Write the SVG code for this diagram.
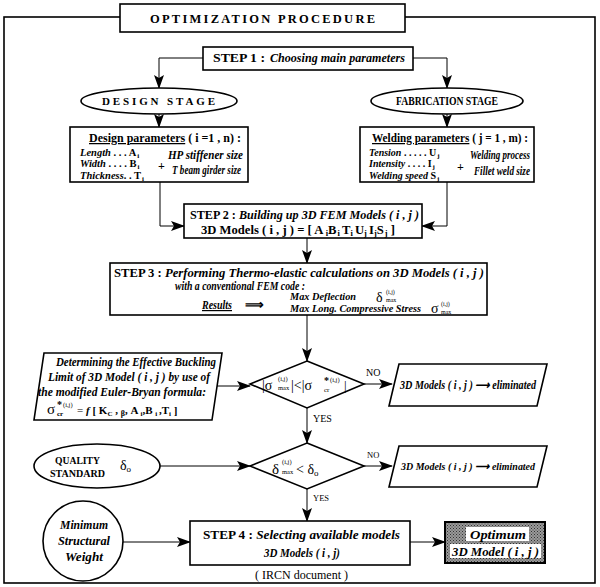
<svg xmlns="http://www.w3.org/2000/svg" width="600" height="587" viewBox="0 0 600 587" font-family="'Liberation Serif','Times New Roman',serif">
<style>
text{font-family:"Liberation Serif","Times New Roman",serif;fill:#000;font-weight:bold}
.i{font-style:italic}
.n{font-weight:normal}
.box{fill:#fff;stroke:#000;stroke-width:1.6}
.c{fill:none;stroke:#000;stroke-width:1}
</style>
<defs>
<marker id="ah" markerWidth="14" markerHeight="10" refX="13" refY="5" orient="auto" markerUnits="userSpaceOnUse">
<path d="M0,0 L14,5 L0,10 L3,5 Z" fill="#000"/>
</marker>
<pattern id="dots" width="3" height="3" patternUnits="userSpaceOnUse">
<rect width="3" height="3" fill="#9a9a9a"/>
<rect width="1" height="1" fill="#333"/>
<rect x="1.5" y="1.5" width="1" height="1" fill="#444"/>
</pattern>
</defs>

<g id="frame">
<rect x="4" y="17" width="591" height="566" fill="none" stroke="#000" stroke-width="1.6"/>
</g>
<g id="title">
<rect x="120" y="4" width="285" height="28" class="box"/>
<text x="150" y="22.5" font-size="12.5" textLength="225">OPTIMIZATION  PROCEDURE</text>
</g>

<g id="connectors">
<path class="c" d="M203,58 H159 V88" marker-end="url(#ah)"/>
<path class="c" d="M413,58 H447 V88" marker-end="url(#ah)"/>
<path class="c" d="M159,114 V127" marker-end="url(#ah)"/>
<path class="c" d="M447,114 V127" marker-end="url(#ah)"/>
<path class="c" d="M160,182 V226 H184" marker-end="url(#ah)"/>
<path class="c" d="M447,182 V226 H422" marker-end="url(#ah)"/>
<path class="c" d="M307,238 V263" marker-end="url(#ah)"/>
<path class="c" d="M307,315 V361" marker-end="url(#ah)"/>
<path class="c" d="M214,386 H250" marker-end="url(#ah)"/>
<path class="c" d="M364,384 H392" marker-end="url(#ah)"/>
<path class="c" d="M307,408 V443" marker-end="url(#ah)"/>
<path class="c" d="M160,466 H250" marker-end="url(#ah)"/>
<path class="c" d="M364,466 H392" marker-end="url(#ah)"/>
<path class="c" d="M307,489 V521" marker-end="url(#ah)"/>
<path class="c" d="M123,542 H190" marker-end="url(#ah)"/>
<path class="c" d="M410,542 H445" marker-end="url(#ah)" stroke-width="1.6"/>
<text x="366" y="376" font-size="10" class="n">NO</text>
<text x="313" y="422" font-size="10" class="n">YES</text>
<text x="367" y="458" font-size="8.5" class="n">NO</text>
<text x="313" y="501" font-size="8.5" class="n">YES</text>
</g>

<g id="step1">
<rect x="203" y="47" width="210" height="23" class="box"/>
<text x="213" y="62" font-size="11.5" textLength="52" lengthAdjust="spacingAndGlyphs">STEP 1 :</text>
<text x="270" y="62" font-size="12" class="i" textLength="135" lengthAdjust="spacingAndGlyphs">Choosing  main  parameters</text>
</g>

<g id="design-stage">
<ellipse cx="159" cy="101" rx="78" ry="13" class="box"/>
<text x="102" y="105" font-size="11" textLength="113">DESIGN STAGE</text>
</g>

<g id="fabrication-stage">
<ellipse cx="447" cy="101" rx="76" ry="13" class="box"/>
<text x="396" y="105" font-size="12" textLength="102" lengthAdjust="spacingAndGlyphs">FABRICATION  STAGE</text>
</g>

<g id="design-params">
<rect x="70" y="127" width="178" height="55" class="box"/>
<text x="89" y="142" font-size="12.5" textLength="152" lengthAdjust="spacingAndGlyphs"><tspan text-decoration="underline">Design  parameters</tspan> ( i =1 , n) :</text>
<text x="80" y="155.5" font-size="10.5"><tspan class="i">Length</tspan> . . . A<tspan dx="1" dy="2" font-size="7">i</tspan></text>
<text x="80" y="167" font-size="10.5"><tspan class="i">Width</tspan> . . . . B<tspan dx="1" dy="2" font-size="7">i</tspan></text>
<text x="80" y="178.5" font-size="10.5"><tspan class="i">Thickness</tspan>. . T<tspan dx="1" dy="2" font-size="7">i</tspan></text>
<text x="158" y="170" font-size="12">+</text>
<text x="168" y="159" font-size="12" class="i" textLength="75" lengthAdjust="spacingAndGlyphs">HP  stiffener size</text>
<text x="172" y="174" font-size="12" class="i" textLength="69" lengthAdjust="spacingAndGlyphs">T beam girder size</text>
</g>

<g id="welding-params">
<rect x="360" y="127" width="174" height="55" class="box"/>
<text x="372" y="142" font-size="12.5" textLength="156" lengthAdjust="spacingAndGlyphs"><tspan text-decoration="underline">Welding  parameters</tspan> ( j = 1 , m) :</text>
<text x="369" y="156" font-size="10"><tspan class="i">Tension</tspan> . . . . .  U<tspan dx="1" dy="2" font-size="7">j</tspan></text>
<text x="369" y="167" font-size="10"><tspan class="i">Intensity</tspan> . . . .  I<tspan dx="1" dy="2" font-size="7">j</tspan></text>
<text x="369" y="178.5" font-size="10"><tspan class="i">Welding speed</tspan> S<tspan dx="1" dy="2" font-size="7">j</tspan></text>
<text x="457" y="171" font-size="12">+</text>
<text x="470" y="159" font-size="11.5" class="i" textLength="60" lengthAdjust="spacingAndGlyphs">Welding process</text>
<text x="474" y="175" font-size="11.5" class="i" textLength="56" lengthAdjust="spacingAndGlyphs">Fillet weld size</text>
</g>

<g id="step2">
<rect x="184" y="204" width="238" height="34" class="box"/>
<text x="190" y="219" font-size="12.5" textLength="229" lengthAdjust="spacingAndGlyphs">STEP 2 : <tspan class="i">Building  up  3D FEM  Models ( i , j )</tspan></text>
<text x="201" y="234" font-size="12" textLength="194" lengthAdjust="spacingAndGlyphs">3D  Models ( i , j ) = [ A <tspan dy="2" font-size="8">i</tspan><tspan dy="-2">B</tspan><tspan dx="1" dy="2" font-size="8">i</tspan><tspan dx="2" dy="-2">T</tspan><tspan dy="2" font-size="8">i</tspan><tspan dx="2" dy="-2">U</tspan><tspan dy="2" font-size="8">j</tspan><tspan dx="2" dy="-2">I</tspan><tspan dy="2" font-size="8">j</tspan><tspan dy="-2">S</tspan><tspan dx="1" dy="2" font-size="8">j</tspan><tspan dx="3" dy="-2">]</tspan></text>
</g>

<g id="step3">
<rect x="110" y="263" width="377" height="52" class="box"/>
<text x="114" y="277" font-size="12.5" textLength="370" lengthAdjust="spacingAndGlyphs">STEP 3 : <tspan class="i">Performing  Thermo-elastic calculations  on  3D Models ( i , j )</tspan></text>
<text x="175" y="289.5" font-size="12" class="i" textLength="130" lengthAdjust="spacingAndGlyphs">with  a  conventional  FEM  code :</text>
<text x="202" y="309" font-size="12" class="i" text-decoration="underline" textLength="30" lengthAdjust="spacingAndGlyphs">Results</text>
<text x="245" y="309" font-size="13">⟹</text>
<text x="290" y="300" font-size="11" class="i" textLength="66" lengthAdjust="spacingAndGlyphs">Max  Deflection</text>
<text x="376" y="302" font-size="14" class="n">δ</text>
<text x="386" y="294" font-size="6" class="n">(i,j)</text>
<text x="386" y="302" font-size="6" class="n">max</text>
<text x="290" y="312" font-size="11" class="i" textLength="131" lengthAdjust="spacingAndGlyphs">Max  Long. Compressive  Stress</text>
<text x="431" y="313" font-size="14" class="n">σ</text>
<text x="441" y="306" font-size="6" class="n">(i,j)</text>
<text x="441" y="313.5" font-size="6" class="n">max</text>
</g>

<g id="buckling-limit">
<polygon points="44,353 222,353 212,420 34,420" class="box"/>
<text x="56" y="366" font-size="12" class="i" textLength="160" lengthAdjust="spacingAndGlyphs">Determining  the  Effective Buckling</text>
<text x="48" y="381" font-size="12" class="i" textLength="162" lengthAdjust="spacingAndGlyphs">Limit  of  3D  Model ( i , j ) by  use of</text>
<text x="38" y="396" font-size="12" class="i" textLength="168" lengthAdjust="spacingAndGlyphs">the modified Euler-Bryan formula:</text>
<text x="47" y="414" font-size="15" class="n">σ</text>
<text x="57" y="416" font-size="7">cr</text>
<text x="57" y="408" font-size="10">*</text>
<text x="63" y="407" font-size="6.5" class="n">(i,j)</text>
<text x="77" y="414" font-size="11"><tspan class="n">=</tspan> <tspan class="i">f</tspan> [ K<tspan dy="2" font-size="7">C</tspan><tspan dy="-2"> , </tspan><tspan dy="2" font-size="8">β</tspan><tspan dy="-2">, A </tspan><tspan dy="2" font-size="7">i</tspan><tspan dy="-2">,B </tspan><tspan dy="2" font-size="7">i </tspan><tspan dy="-2">,T</tspan><tspan dy="2" font-size="7">i</tspan><tspan dy="-2"> ]</tspan></text>
</g>

<g id="decision-stress">
<polygon points="307,361 364,384 307,408 250,384" class="box"/>
<text x="262" y="390" font-size="14" class="n">|σ</text>
<text x="278" y="381" font-size="6.5" class="n">(i,j)</text>
<text x="278" y="390" font-size="6.5" class="n">max</text>
<text x="291" y="390" font-size="14" class="n">|&lt;|σ</text>
<text x="324" y="392" font-size="7" class="n">cr</text>
<text x="324" y="384" font-size="10">*</text>
<text x="330" y="382" font-size="6.5" class="n">(i,j)</text>
<text x="344" y="390" font-size="13" class="n">|</text>
</g>

<g id="eliminated-1">
<polygon points="399,364 547,364 537,406 389,406" class="box"/>
<text x="400" y="389" font-size="12" class="i" textLength="136" lengthAdjust="spacingAndGlyphs">3D Models ( i , j )  ⟶   eliminated</text>
</g>

<g id="quality-standard">
<ellipse cx="97" cy="466" rx="63" ry="22" class="box"/>
<text x="55" y="464" font-size="11" textLength="45" lengthAdjust="spacingAndGlyphs">QUALITY</text>
<text x="50" y="477" font-size="11" textLength="55" lengthAdjust="spacingAndGlyphs">STANDARD</text>
<text x="120" y="470" font-size="14" class="n">δ<tspan dy="2" font-size="9">o</tspan></text>
</g>

<g id="decision-deflection">
<polygon points="307,443 364,466 307,489 250,466" class="box"/>
<text x="272" y="474" font-size="15" class="n">δ</text>
<text x="282" y="464" font-size="6.5" class="n">(i,j)</text>
<text x="282" y="474" font-size="6.5" class="n">max</text>
<text x="296" y="474" font-size="14" class="n">&lt; δ<tspan dy="2" font-size="9">o</tspan></text>
</g>

<g id="eliminated-2">
<polygon points="399,446 547,446 537,487 389,487" class="box"/>
<text x="401" y="470" font-size="11" class="i" textLength="134" lengthAdjust="spacingAndGlyphs">3D Models ( i , j )  ⟶   eliminated</text>
</g>

<g id="min-weight">
<circle cx="83" cy="541" r="40" class="box"/>
<text x="60" y="529" font-size="12" class="i" textLength="48" lengthAdjust="spacingAndGlyphs">Minimum</text>
<text x="58" y="545" font-size="12" class="i" textLength="52" lengthAdjust="spacingAndGlyphs">Structural</text>
<text x="65" y="561" font-size="12" class="i" textLength="38" lengthAdjust="spacingAndGlyphs">Weight</text>
</g>

<g id="step4">
<rect x="190" y="521" width="220" height="44" class="box"/>
<text x="203" y="539" font-size="11.5" textLength="197" lengthAdjust="spacingAndGlyphs">STEP  4 : <tspan class="i">Selecting  available models</tspan></text>
<text x="264" y="557" font-size="11.5" class="i" textLength="76" lengthAdjust="spacingAndGlyphs">3D  Models ( i , j)</text>
</g>

<g id="optimum">
<rect x="445" y="522" width="100" height="41" fill="url(#dots)" stroke="#000" stroke-width="2"/>
<rect x="466" y="527" width="63" height="14" fill="#fff"/>
<rect x="450" y="544" width="91" height="14" fill="#fff"/>
<text x="470" y="539" font-size="13.5" class="i" textLength="56" lengthAdjust="spacingAndGlyphs">Optimum</text>
<text x="452" y="556" font-size="12" class="i" textLength="87" lengthAdjust="spacingAndGlyphs">3D  Model ( i , j )</text>
</g>

<g id="caption">
<text x="255" y="579" font-size="12" class="n" textLength="93">( IRCN  document )</text>
</g>
</svg>
